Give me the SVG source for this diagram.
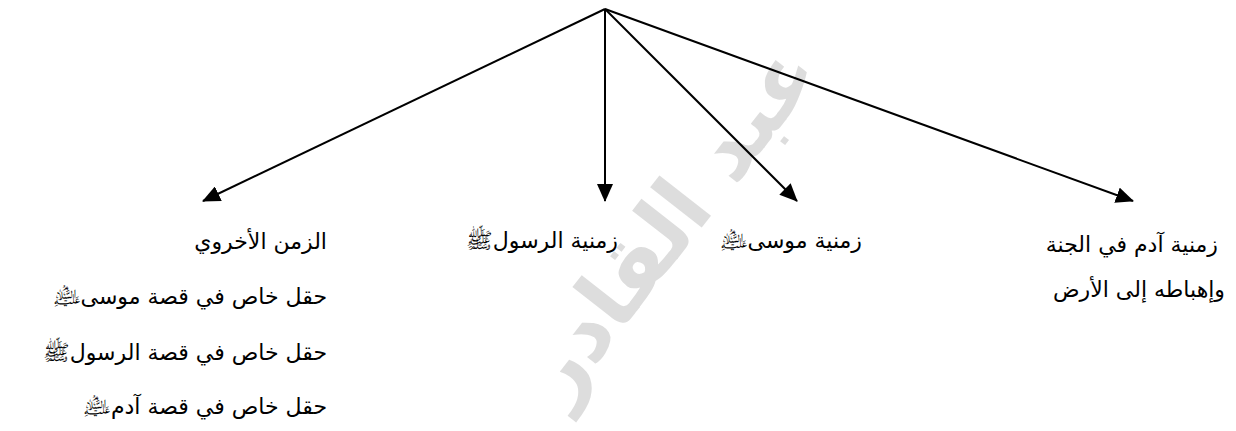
<svg xmlns="http://www.w3.org/2000/svg" width="1236" height="431" viewBox="0 0 1236 431">
<style>
.t{font-family:"DejaVu Sans","Noto Sans",sans-serif;font-size:22px;fill:#000}
.c{stroke:#000;stroke-width:2;fill:none}
.wm{font-family:"DejaVu Sans",sans-serif;font-size:86px;font-weight:bold;fill:#cfcfcf;opacity:0.7}
</style>
<defs>
<marker id="ah" viewBox="0 0 18 16" refX="17" refY="8" markerWidth="18" markerHeight="16" markerUnits="userSpaceOnUse" orient="auto">
<path d="M0,0 L18,8 L0,16 Z" fill="#000"/>
</marker>
</defs>
<rect width="1236" height="431" fill="#fff"/>
<g id="watermark">
<text class="wm" x="692" y="240" text-anchor="middle" transform="rotate(-52 692 240)" direction="rtl">عبد القادر</text>
</g>
<g id="connectors">
<line class="c" x1="605" y1="9" x2="203" y2="201" marker-end="url(#ah)"/>
<line class="c" x1="605" y1="9" x2="605" y2="201" marker-end="url(#ah)"/>
<line class="c" x1="605" y1="9" x2="797" y2="201" marker-end="url(#ah)"/>
<line class="c" x1="605" y1="9" x2="1133" y2="201" marker-end="url(#ah)"/>
</g>
<g id="node-ukhrawi">
<text class="t" x="327" y="249" direction="rtl" text-anchor="start">الزمن الأخروي</text>
<text class="t" x="327" y="304" direction="rtl" text-anchor="start">حقل خاص في قصة موسى﵇</text>
<text class="t" x="327" y="360" direction="rtl" text-anchor="start">حقل خاص في قصة الرسولﷺ</text>
<text class="t" x="327" y="414" direction="rtl" text-anchor="start">حقل خاص في  قصة آدم﵇</text>
</g>
<g id="node-rasul">
<text class="t" x="618" y="248" direction="rtl" text-anchor="start">زمنية الرسولﷺ</text>
</g>
<g id="node-musa">
<text class="t" x="862" y="248" direction="rtl" text-anchor="start">زمنية موسى﵇</text>
</g>
<g id="node-adam">
<text class="t" x="1218" y="252" direction="rtl" text-anchor="start">زمنية آدم في الجنة</text>
<text class="t" x="1225" y="297" direction="rtl" text-anchor="start">وإهباطه إلى الأرض</text>
</g>
</svg>
